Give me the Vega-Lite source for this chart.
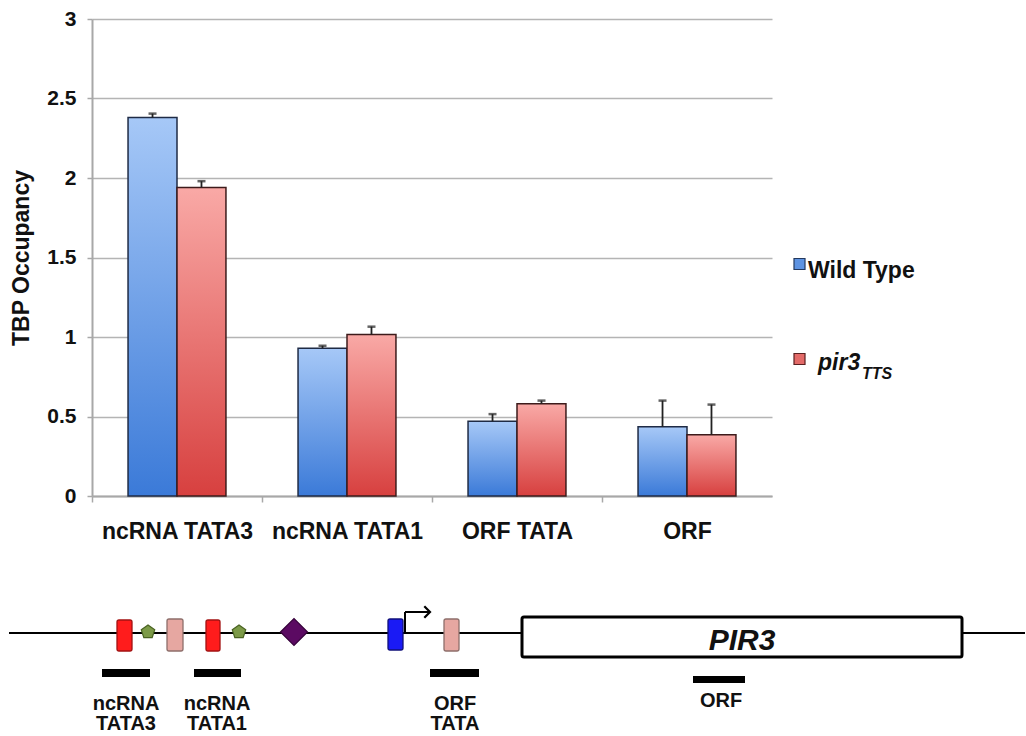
{
  "$schema": "https://vega.github.io/schema/vega-lite/v6.json",
  "padding": {"left": 8, "top": 8, "right": 0, "bottom": 0},
  "background": "white",
  "config": {
    "view": {"stroke": null},
    "font": "Liberation Sans",
    "axis": {"labelFont": "Liberation Sans", "titleFont": "Liberation Sans"}
  },
  "resolve": {"scale": {"fill": "independent", "stroke": "independent"}},
  "spacing": 57,
  "datasets": {
    "bars": [
      {"region": "ncRNA TATA3", "series": "Wild Type", "value": 2.38, "upper": 2.405},
      {"region": "ncRNA TATA3", "series": "pir3", "value": 1.94, "upper": 1.98},
      {"region": "ncRNA TATA1", "series": "Wild Type", "value": 0.93, "upper": 0.945},
      {"region": "ncRNA TATA1", "series": "pir3", "value": 1.015, "upper": 1.065},
      {"region": "ORF TATA", "series": "Wild Type", "value": 0.47, "upper": 0.515},
      {"region": "ORF TATA", "series": "pir3", "value": 0.58, "upper": 0.6},
      {"region": "ORF", "series": "Wild Type", "value": 0.435, "upper": 0.6},
      {"region": "ORF", "series": "pir3", "value": 0.385, "upper": 0.575}
    ],
    "legend": [
      {"series": "Wild Type", "label": "Wild Type", "sub": ""},
      {"series": "pir3", "label": "pir3", "sub": "TTS"}
    ],
    "lines": [
      {"u": 0, "u2": 1016, "v": 33, "v2": 33},
      {"u": 396, "u2": 396, "v": 12, "v2": 33},
      {"u": 396, "u2": 420, "v": 12, "v2": 12}
    ],
    "gene": [{"u": 513, "u2": 953, "v": 17, "v2": 57}],
    "geneLabel": [{"u": 733, "v": 50, "name": "PIR3"}],
    "elements": [
      {"u": 108, "u2": 123, "v": 20, "v2": 51, "kind": "ncRNA TATA"},
      {"u": 158, "u2": 174, "v": 19, "v2": 51, "kind": "TATA-like"},
      {"u": 197, "u2": 211, "v": 20, "v2": 51, "kind": "ncRNA TATA"},
      {"u": 379, "u2": 394, "v": 19, "v2": 50, "kind": "UAS"},
      {"u": 435, "u2": 450, "v": 19, "v2": 51, "kind": "TATA-like"}
    ],
    "symbols": [
      {"u": 139, "v": 32, "kind": "pentagon"},
      {"u": 230, "v": 32, "kind": "pentagon"},
      {"u": 285, "v": 32, "kind": "diamond"},
      {"u": 421, "v": 12, "kind": "arrowhead"}
    ],
    "probes": [
      {"u": 93, "u2": 141, "v": 69, "v2": 77},
      {"u": 185, "u2": 232, "v": 69, "v2": 77},
      {"u": 421, "u2": 470, "v": 69, "v2": 77},
      {"u": 684, "u2": 736, "v": 76, "v2": 83}
    ],
    "probeLabels": [
      {"u": 117, "v": 110, "lines": ["ncRNA", "TATA3"]},
      {"u": 208, "v": 110, "lines": ["ncRNA", "TATA1"]},
      {"u": 446, "v": 110, "lines": ["ORF", "TATA"]},
      {"u": 712, "v": 107, "lines": ["ORF"]}
    ]
  },
  "vconcat": [
    {
      "bounds": "flush",
      "spacing": 0,
      "hconcat": [
        {
          "width": 680,
          "height": 477,
          "data": {"name": "bars"},
          "encoding": {
            "x": {
              "field": "region", "type": "nominal",
              "sort": ["ncRNA TATA3", "ncRNA TATA1", "ORF TATA", "ORF"],
              "scale": {"paddingInner": 0.424, "paddingOuter": 0.212},
              "axis": {
                "title": null, "labelAngle": 0, "labelFontSize": 23, "labelFontWeight": "bold",
                "labelColor": "#111", "labelPadding": 18,
                "domainColor": "#a8a8a8", "domainWidth": 2,
                "tickColor": "#a8a8a8", "tickWidth": 1.5, "tickSize": 6,
                "tickOffset": -85, "labelOffset": 85
              }
            },
            "xOffset": {
              "field": "series", "type": "nominal", "sort": ["Wild Type", "pir3"],
              "scale": {"paddingInner": 0, "paddingOuter": 0}
            },
            "y": {
              "field": "value", "type": "quantitative",
              "scale": {"domain": [0, 3], "nice": false},
              "axis": {
                "title": "TBP Occupancy", "values": [0, 0.5, 1, 1.5, 2, 2.5, 3], "format": "~g",
                "labelFontSize": 21, "labelFontWeight": "bold", "labelColor": "#111", "labelPadding": 11,
                "tickSize": 5, "tickColor": "#a8a8a8", "tickWidth": 1.5,
                "domainColor": "#a8a8a8", "domainWidth": 2,
                "gridColor": "#b4b4b4", "gridWidth": 1.5,
                "titleFontSize": 23, "titleFontWeight": "bold", "titleColor": "#111",
                "titlePadding": 13, "minExtent": 46, "maxExtent": 46
              }
            }
          },
          "layer": [
            {
              "transform": [{"filter": "datum.series === 'Wild Type'"}],
              "mark": {
                "type": "bar", "stroke": "#1f2b45", "strokeWidth": 1.5,
                "color": {"gradient": "linear", "x1": 0, "y1": 0, "x2": 0, "y2": 1,
                  "stops": [{"offset": 0, "color": "#a6c8f7"}, {"offset": 1, "color": "#3b7ad8"}]}
              }
            },
            {
              "transform": [{"filter": "datum.series === 'pir3'"}],
              "mark": {
                "type": "bar", "stroke": "#3d1b1b", "strokeWidth": 1.5,
                "color": {"gradient": "linear", "x1": 0, "y1": 0, "x2": 0, "y2": 1,
                  "stops": [{"offset": 0, "color": "#f9a9a6"}, {"offset": 1, "color": "#d7403f"}]}
              }
            },
            {
              "mark": {"type": "rule", "color": "#222", "strokeWidth": 1.8},
              "encoding": {"y2": {"field": "upper"}}
            },
            {
              "mark": {"type": "tick", "color": "#222", "thickness": 2.5, "size": 8, "orient": "horizontal"},
              "encoding": {"y": {"field": "upper", "type": "quantitative"}}
            }
          ]
        },
        {
          "width": 55,
          "height": 477,
          "data": {"name": "legend"},
          "encoding": {
            "y": {"field": "series", "type": "nominal", "sort": ["Wild Type", "pir3"],
              "scale": {"type": "point", "range": [245, 340], "padding": 0}, "axis": null}
          },
          "layer": [
            {
              "mark": {"type": "point", "shape": "square", "filled": true, "size": 121, "strokeWidth": 1.2, "opacity": 1},
              "encoding": {
                "fill": {"field": "series", "type": "nominal", "scale": {"domain": ["Wild Type", "pir3"], "range": ["#5d93e2", "#e36a68"]}, "legend": null},
                "stroke": {"field": "series", "type": "nominal", "scale": {"domain": ["Wild Type", "pir3"], "range": ["#23395e", "#5a2020"]}, "legend": null}
              }
            },
            {
              "transform": [{"filter": "datum.series === 'Wild Type'"}],
              "mark": {"type": "text", "align": "left", "baseline": "alphabetic", "dx": 8.5, "dy": 14, "fontSize": 23, "fontWeight": "bold", "color": "#111"},
              "encoding": {"text": {"field": "label"}}
            },
            {
              "transform": [{"filter": "datum.series === 'pir3'"}],
              "mark": {"type": "text", "align": "left", "baseline": "alphabetic", "dx": 18.5, "dy": 11, "fontSize": 23, "fontWeight": "bold", "fontStyle": "italic", "color": "#111"},
              "encoding": {"text": {"field": "label"}}
            },
            {
              "transform": [{"filter": "datum.series === 'pir3'"}],
              "mark": {"type": "text", "align": "left", "baseline": "alphabetic", "dx": 62.5, "dy": 20, "fontSize": 16, "fontWeight": "bold", "fontStyle": "italic", "color": "#111"},
              "encoding": {"text": {"field": "sub"}}
            }
          ]
        }
      ]
    },
    {
      "width": 933,
      "height": 136,
      "encoding": {
        "x": {"field": "u", "type": "quantitative", "scale": {"domain": [83, 1016], "nice": false, "zero": false}, "axis": null},
        "y": {"field": "v", "type": "quantitative", "scale": {"domain": [0, 136], "nice": false, "zero": false, "reverse": true}, "axis": null}
      },
      "layer": [
        {
          "data": {"name": "lines"},
          "mark": {"type": "rule", "color": "#000", "strokeWidth": 2},
          "encoding": {"x2": {"field": "u2"}, "y2": {"field": "v2"}}
        },
        {
          "data": {"name": "symbols"},
          "transform": [{"filter": "datum.kind === 'arrowhead'"}],
          "mark": {"type": "point", "shape": "M-1,-1L0,0L-1,1", "filled": false, "stroke": "#000", "strokeWidth": 2.2, "size": 130, "opacity": 1}
        },
        {
          "data": {"name": "gene"},
          "mark": {"type": "rect", "fill": "#fff", "stroke": "#000", "strokeWidth": 3, "cornerRadius": 2},
          "encoding": {"x2": {"field": "u2"}, "y2": {"field": "v2"}}
        },
        {
          "data": {"name": "geneLabel"},
          "mark": {"type": "text", "fontSize": 30, "fontWeight": "bold", "fontStyle": "italic", "baseline": "alphabetic", "align": "center", "color": "#111"},
          "encoding": {"text": {"field": "name"}}
        },
        {
          "data": {"name": "elements"},
          "mark": {"type": "rect", "strokeWidth": 1.3, "cornerRadius": 2},
          "encoding": {
            "x2": {"field": "u2"}, "y2": {"field": "v2"},
            "fill": {"field": "kind", "type": "nominal", "scale": {"domain": ["ncRNA TATA", "TATA-like", "UAS"], "range": ["#ff1c1c", "#e6a7a1", "#1a1af5"]}, "legend": null},
            "stroke": {"field": "kind", "type": "nominal", "scale": {"domain": ["ncRNA TATA", "TATA-like", "UAS"], "range": ["#a31212", "#8e6f6b", "#10107a"]}, "legend": null}
          }
        },
        {
          "data": {"name": "symbols"},
          "transform": [{"filter": "datum.kind === 'pentagon'"}],
          "mark": {"type": "point", "shape": "M0,-1L0.951,-0.309L0.588,0.809L-0.588,0.809L-0.951,-0.309Z", "filled": true, "fill": "#7c9a48", "stroke": "#4a6322", "strokeWidth": 1.2, "size": 200, "opacity": 1}
        },
        {
          "data": {"name": "symbols"},
          "transform": [{"filter": "datum.kind === 'diamond'"}],
          "mark": {"type": "point", "shape": "diamond", "filled": true, "fill": "#5b0a62", "stroke": "#36003a", "strokeWidth": 1.2, "size": 729, "opacity": 1}
        },
        {
          "data": {"name": "probes"},
          "mark": {"type": "rect", "color": "#000"},
          "encoding": {"x2": {"field": "u2"}, "y2": {"field": "v2"}}
        },
        {
          "data": {"name": "probeLabels"},
          "mark": {"type": "text", "fontSize": 20, "fontWeight": "bold", "baseline": "alphabetic", "align": "center", "lineHeight": 20, "color": "#111"},
          "encoding": {"text": {"field": "lines"}}
        }
      ]
    }
  ]
}
